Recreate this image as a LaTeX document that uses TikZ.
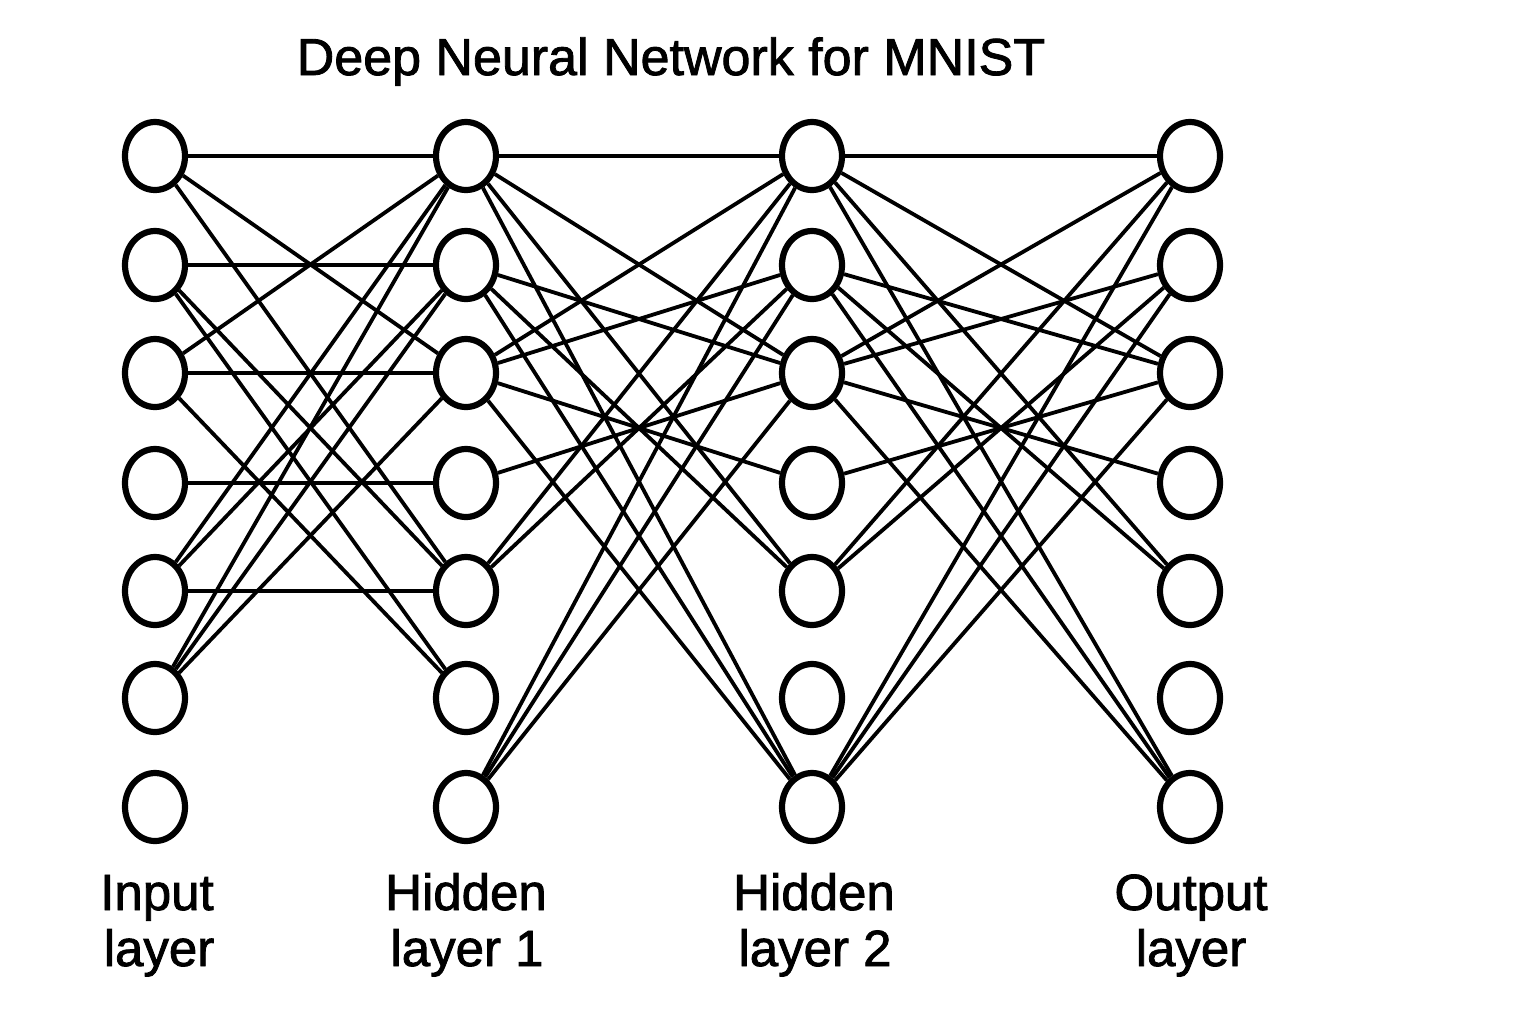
\documentclass[tikz,border=0pt]{standalone}
\usepackage{fontspec}
\setmainfont{Liberation Sans}
\newfontfamily\medfont{Liberation Sans}[FakeBold=1.6]
\usetikzlibrary{shapes.geometric}
\begin{document}
\begin{tikzpicture}[x=0.5pt,y=-0.5pt,
  neuron/.style={ellipse,draw,line width=3.1pt,minimum width=30pt,minimum height=34pt,inner sep=0pt},
  link/.style={line width=1.9pt},
  lbl/.style={font=\medfont\fontsize{25.5pt}{28.5pt}\selectfont,anchor=base,inner sep=0pt},
  ttl/.style={font=\medfont\fontsize{26pt}{30pt}\selectfont,anchor=base,inner sep=0pt}]
\fill[white] (0,0) rectangle (1536,1024);
\useasboundingbox (0,0) rectangle (1536,1024);
\foreach \r/\y in {1/156,2/265,3/373,4/483,5/591,6/698,7/807}{
  \node[neuron] (i\r) at (155,\y) {};
  \node[neuron] (a\r) at (466,\y) {};
  \node[neuron] (b\r) at (812,\y) {};
  \node[neuron] (c\r) at (1190,\y) {};
}
% input -> hidden 1
\foreach \s/\t in {1/1,1/3,1/5,2/2,2/5,2/6,3/1,3/3,3/6,4/4,5/5,5/1,5/2,6/1,6/2,6/3}
  \draw[link] (i\s) -- (a\t);
% hidden 1 -> hidden 2
\foreach \s/\t in {1/1,1/3,1/5,1/7,2/3,2/5,2/7,3/1,3/2,3/4,3/7,4/3,5/1,5/2,7/1,7/2,7/3}
  \draw[link] (a\s) -- (b\t);
% hidden 2 -> output
\foreach \s/\t in {1/1,1/3,1/5,1/7,2/3,2/5,2/7,3/1,3/2,3/4,3/7,4/3,5/1,5/2,7/1,7/2,7/3}
  \draw[link] (b\s) -- (c\t);
% title
\node[ttl] (title) at (671,75) {Deep Neural Network for MNIST};
% labels
\node[lbl] (l1a) at (157,910) {Input};
\node[lbl] (l1b) at (159,966) {layer};
\node[lbl] (l2a) at (466,910) {Hidden};
\node[lbl] (l2b) at (467,966) {layer 1};
\node[lbl] (l3a) at (814,910) {Hidden};
\node[lbl] (l3b) at (815,966) {layer 2};
\node[lbl] (l4a) at (1191,910) {Output};
\node[lbl] (l4b) at (1191,966) {layer};
\end{tikzpicture}
\end{document}
